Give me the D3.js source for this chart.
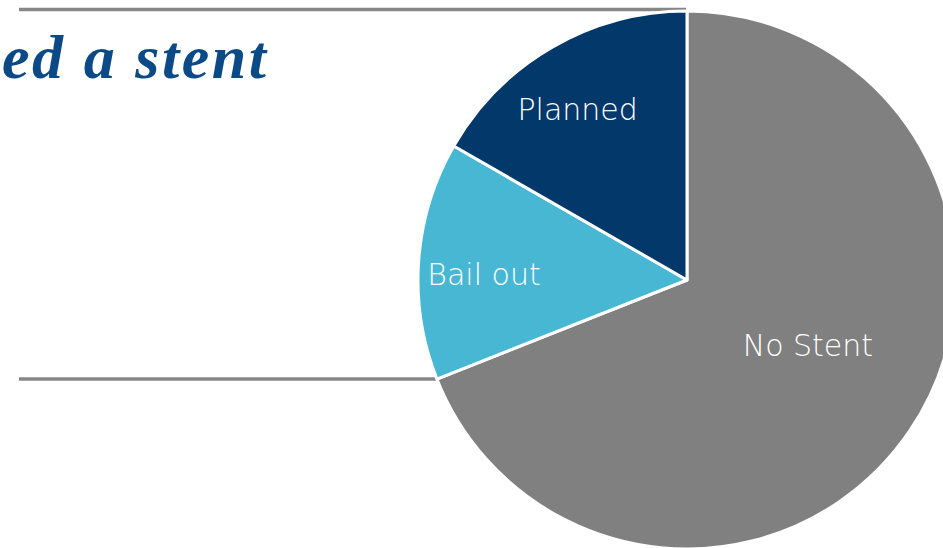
<!DOCTYPE html>
<html><head><meta charset="utf-8">
<script src="https://cdn.jsdelivr.net/npm/d3@7"></script>
<style>html,body{margin:0;padding:0;background:#fff;overflow:hidden}</style>
</head><body>
<svg id="c" width="943" height="548"></svg>
<script>
const categories = ["No Stent", "Bail out", "Planned"];
const values = [69, 14.3, 16.7];
const colors = ["#808080", "#48b7d3", "#02386a"];
const titleText = "ed a stent";

const svg = d3.select("#c");
// decorative rules
svg.append("line").attr("x1",19).attr("x2",686).attr("y1",9.5).attr("y2",9.5)
  .attr("stroke","#878787").attr("stroke-width",3.5);
svg.append("line").attr("x1",19).attr("x2",440).attr("y1",379).attr("y2",379)
  .attr("stroke","#878787").attr("stroke-width",3.5);

svg.append("text").attr("x",2).attr("y",78).attr("text-anchor","start")
  .attr("font-family","'Liberation Serif', 'DejaVu Serif', serif")
  .attr("font-style","italic").attr("font-weight","bold")
  .attr("font-size",62).attr("fill","#0b4a86")
  .attr("textLength",264).attr("lengthAdjust","spacing")
  .text(titleText);

const cx = 687, cy = 280, r = 269;
const pie = d3.pie().sort(null).value(d => d.v);
const data = pie(categories.map((c,i)=>({c, v: values[i], col: colors[i]})));
const arc = d3.arc().innerRadius(0).outerRadius(r);
const g = svg.append("g").attr("transform",`translate(${cx},${cy})`);
g.selectAll("path").data(data).join("path")
  .attr("d", arc).attr("fill", d => d.data.col)
  .attr("stroke","#fff").attr("stroke-width",3).attr("stroke-linejoin","round");

g.selectAll("text").data(data).join("text")
  .attr("transform", d => {
    const big = d.data.v > 50;
    const lr = big ? r*0.51 : r*0.755;
    const a = (d.startAngle + d.endAngle)/2 - (big ? 6 : 2.5) * Math.PI/180;
    return `translate(${lr*Math.sin(a)},${-lr*Math.cos(a)})`;
  })
  .attr("text-anchor","middle").attr("dy","0.37em")
  .attr("font-family","'DejaVu Sans', sans-serif").attr("font-weight",200)
  .attr("font-size",30).attr("fill","#fff")
  .text(d => d.data.c);
</script>
</body></html>
